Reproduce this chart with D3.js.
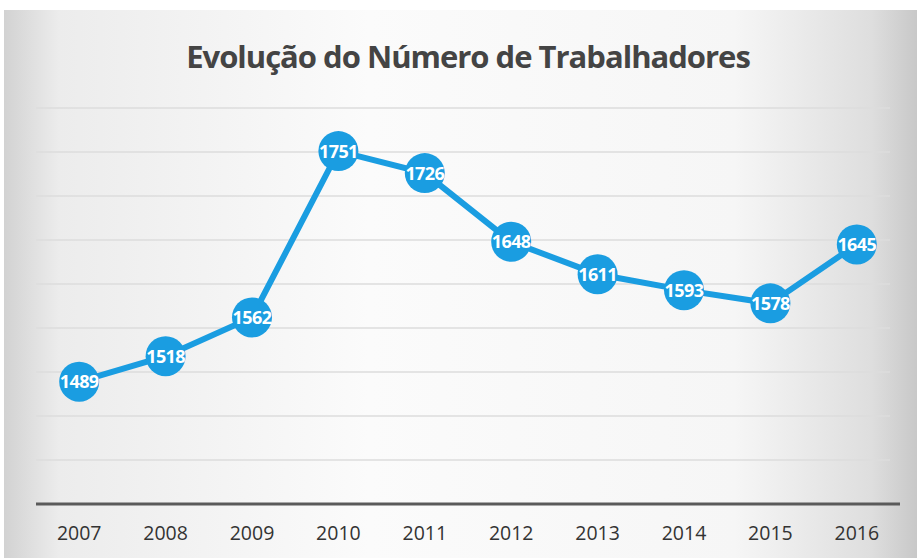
<!DOCTYPE html>
<html><head><meta charset="utf-8">
<script src="https://cdn.jsdelivr.net/npm/d3@7"></script>
<style>body{margin:0;background:#fff}svg{display:block}</style>
</head><body>
<svg id="c" width="917" height="558"></svg>
<script>
const years = ["2007","2008","2009","2010","2011","2012","2013","2014","2015","2016"];
const workers = [1489,1518,1562,1751,1726,1648,1611,1593,1578,1645];
const gridValues = [1400,1450,1500,1550,1600,1650,1700,1750,1800];
const title = "Evolução do Número de Trabalhadores";

const svg = d3.select("#c");
const W = 917, H = 558;
const defs = svg.append("defs");
const g1 = defs.append("linearGradient").attr("id","bg").attr("x1","0").attr("x2","1").attr("y1","0").attr("y2","0");
g1.append("stop").attr("offset","0").attr("stop-color","#d2d2d2");
g1.append("stop").attr("offset","0.06").attr("stop-color","#ececec");
g1.append("stop").attr("offset","0.4").attr("stop-color","#fbfbfb");
g1.append("stop").attr("offset","0.8").attr("stop-color","#f6f6f6");
g1.append("stop").attr("offset","0.95").attr("stop-color","#dedede");
g1.append("stop").attr("offset","1").attr("stop-color","#c8c8c8");
svg.append("rect").attr("width",W).attr("height",H).attr("fill","#fff");
svg.append("rect").attr("x",4).attr("y",10).attr("width",W-4).attr("height",H-10).attr("fill","url(#bg)");

const x = d3.scaleBand().domain(years).range([36,900]);
const y = d3.scaleLinear().domain([1350,1800]).range([504,108]);

svg.append("g").selectAll("line").data(gridValues).join("line")
  .attr("x1",36).attr("x2",890).attr("y1",d=>y(d)).attr("y2",d=>y(d))
  .attr("stroke","#dcdcdc").attr("stroke-width",1.5);

svg.append("line").attr("x1",36).attr("x2",900).attr("y1",y(1350)).attr("y2",y(1350))
  .attr("stroke","#5a5a5a").attr("stroke-width",3);

const xAxis = d3.axisBottom(x).tickSize(0).tickPadding(0);
const ax = svg.append("g").attr("transform",`translate(0,${y(1350)+22})`).call(xAxis);
ax.select(".domain").remove();
ax.selectAll("text").attr("font-family","'Open Sans', sans-serif").attr("font-size",19.5).attr("fill","#333").attr("dy","0.71em");

const cx = d => x(d) + x.bandwidth()/2;
const line = d3.line().x((d,i)=>cx(years[i])).y(d=>y(d));
svg.append("path").datum(workers).attr("d",line).attr("fill","none")
  .attr("stroke","#1a9de1").attr("stroke-width",6);

svg.append("g").selectAll("circle").data(workers).join("circle")
  .attr("cx",(d,i)=>cx(years[i])).attr("cy",d=>y(d)).attr("r",20).attr("fill","#1a9de1");
svg.append("g").selectAll("text").data(workers).join("text")
  .attr("x",(d,i)=>cx(years[i])).attr("y",d=>y(d)).attr("dy","0.36em")
  .attr("text-anchor","middle").attr("font-family","'Open Sans', sans-serif")
  .attr("font-weight","bold").attr("font-size",18).attr("fill","#fff")
  .attr("letter-spacing","-0.6").text(d=>d);

svg.append("text").attr("x",468).attr("y",68).attr("text-anchor","middle")
  .attr("font-family","'Open Sans', sans-serif").attr("font-weight","bold")
  .attr("font-size",31).attr("fill","#444").attr("letter-spacing","-1").text(title);
</script>
</body></html>
